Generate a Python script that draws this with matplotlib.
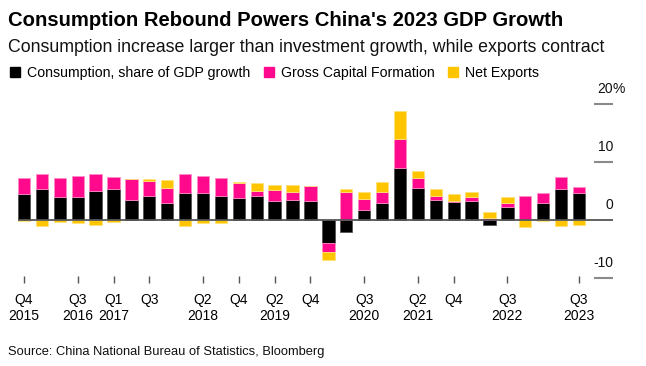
import numpy as np
import matplotlib.pyplot as plt
from matplotlib.patches import Patch

plt.rcParams['font.family'] = ['Liberation Sans', 'DejaVu Sans']

# ======== Data (percentage points of GDP growth) ========
quarters = ["Q4 2015", "Q1 2016", "Q2 2016", "Q3 2016", "Q4 2016",
            "Q1 2017", "Q2 2017", "Q3 2017", "Q4 2017",
            "Q1 2018", "Q2 2018", "Q3 2018", "Q4 2018",
            "Q1 2019", "Q2 2019", "Q3 2019", "Q4 2019",
            "Q1 2020", "Q2 2020", "Q3 2020", "Q4 2020",
            "Q1 2021", "Q2 2021", "Q3 2021", "Q4 2021",
            "Q1 2022", "Q2 2022", "Q3 2022", "Q4 2022",
            "Q1 2023", "Q2 2023", "Q3 2023"]
consumption = [4.4, 5.4, 3.9, 4.0, 5.0, 5.4, 3.5, 4.2, 2.9,
               4.7, 4.7, 4.2, 3.8, 4.2, 3.2, 3.5, 3.3,
               -4.0, -2.1, 1.8, 2.9, 8.9, 5.6, 3.5, 3.1,
               3.3, -0.8, 2.2, 0.2, 3.0, 5.4, 4.6]
capital = [2.8, 2.6, 3.3, 3.6, 2.9, 2.0, 3.5, 2.6, 2.7,
           3.3, 2.9, 3.1, 2.6, 0.8, 2.0, 1.4, 2.6,
           -1.6, 4.9, 1.9, 2.0, 5.1, 1.7, 0.7, 0.1,
           0.6, 0.4, 0.7, 3.9, 1.6, 2.1, 1.1]
net_exports = [-0.1, -1.0, -0.3, -0.6, -0.9, -0.3, 0.0, 0.2, 1.3,
               -1.0, -0.5, -0.5, 0.2, 1.4, 0.8, 1.1, 0.0,
               -1.3, 0.5, 1.2, 1.6, 4.8, 1.1, 1.1, 1.2,
               0.9, 0.9, 1.0, -1.2, -0.1, -1.0, -0.8]
tick_idx = [0, 3, 5, 7, 10, 12, 14, 16, 19, 22, 24, 27, 31]
tick_labels = ["Q4\n2015", "Q3\n2016", "Q1\n2017", "Q3", "Q2\n2018", "Q4",
               "Q2\n2019", "Q4", "Q3\n2020", "Q2\n2021", "Q4", "Q3\n2022",
               "Q3\n2023"]
y_ticks = [20, 10, 0, -10]
# ========================================================

black = "#000000"
pink = "#FF0A8C"
yellow = "#FFC500"

fig = plt.figure(figsize=(6.46, 3.66), dpi=100)
ax = fig.add_axes([10 / 646, (366 - 283) / 366, 610 / 646, 183 / 366])

x = np.arange(len(quarters))
series = [(consumption, black, "#555555"), (capital, pink, "#FF8CC6"),
          (net_exports, yellow, "#FFE27A")]
pos_base = np.zeros(len(x))
neg_base = np.zeros(len(x))
for vals, col, edge in series:
    v = np.array(vals)
    bottom = np.where(v >= 0, pos_base, neg_base)
    ax.bar(x, v, bottom=bottom, width=0.69, color=col, edgecolor=edge,
           linewidth=0.6, zorder=2)
    pos_base = pos_base + np.where(v > 0, v, 0)
    neg_base = neg_base + np.where(v < 0, v, 0)

px = 555 / 31  # pixels per quarter
ax.set_xlim(-14 / px, 596 / px)
ax.set_ylim(-63 / 5.8, 120 / 5.8)

x_right = (613 - 24) / px
ax.plot([-0.34, x_right], [0, 0], color="#555555", lw=1.3, zorder=3,
        solid_capstyle="butt")
for yt in y_ticks:
    if yt != 0:
        ax.plot([(594 - 24) / px, x_right], [yt, yt], color="#8a8a8a",
                lw=1.5, solid_capstyle="butt")
    ax.text(x_right, yt + 1.4, str(yt), ha="right", va="bottom",
            fontsize=10, color="#111111")
ax.text(x_right - 0.05, 20 + 1.4, "%", ha="left", va="bottom", fontsize=10,
        color="#111111")

for s in ax.spines.values():
    s.set_visible(False)
ax.set_yticks([])
ax.set_xticks(tick_idx)
ax.set_xticklabels(tick_labels, fontsize=10, linespacing=1.25)
ax.tick_params(axis="x", direction="in", length=5, width=1, color="#555555",
               pad=7)

fig.text(8 / 646, 1 - 20 / 366, "Consumption Rebound Powers China's 2023 GDP Growth",
         fontsize=14.6, fontweight="bold", va="center", ha="left")
fig.text(8 / 646, 1 - 47 / 366,
         "Consumption increase larger than investment growth, while exports contract",
         fontsize=12.8, va="center", ha="left", color="#111111")

handles = [Patch(color=black), Patch(color=pink), Patch(color=yellow)]
fig.legend(handles, ["Consumption, share of GDP growth", "Gross Capital Formation",
                     "Net Exports"],
           loc="center left", bbox_to_anchor=(4 / 646, 1 - 73 / 366), ncol=3,
           frameon=False, fontsize=10.2, handlelength=0.72, handleheight=0.72,
           handletextpad=0.5, columnspacing=0.95, borderaxespad=0)

fig.text(8 / 646, 1 - 352 / 366, "Source: China National Bureau of Statistics, Bloomberg",
         fontsize=9.3, va="center", ha="left", color="#111111")

fig.savefig("out.png", dpi=100)
